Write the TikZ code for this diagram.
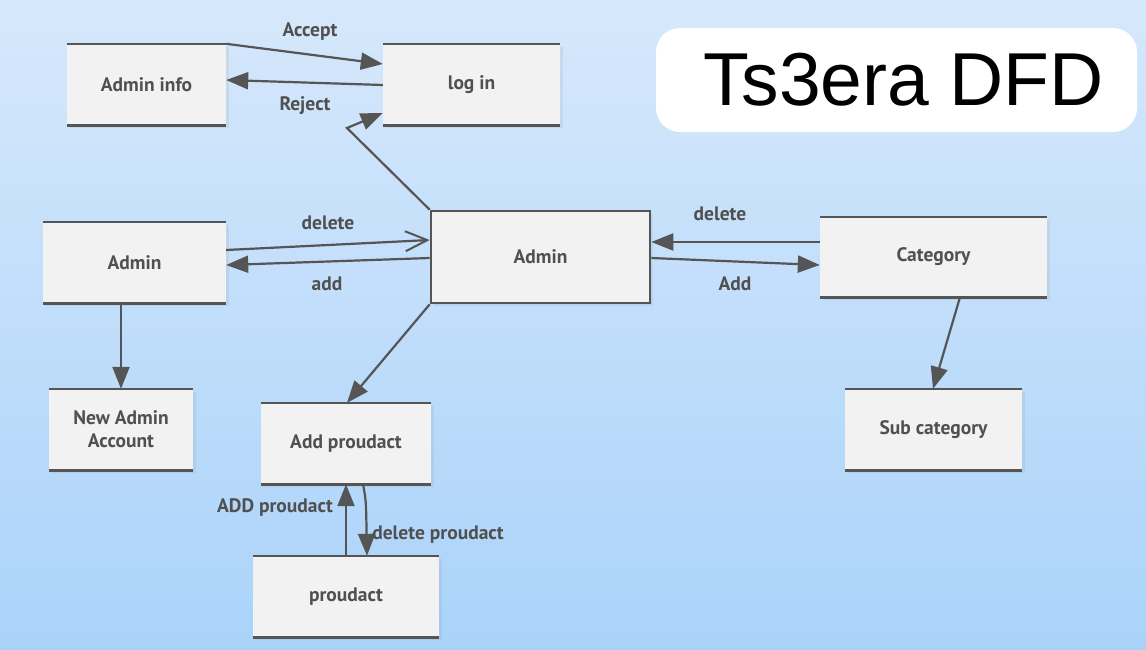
\documentclass[tikz,border=0pt]{standalone}
\usepackage{fontspec}
\setmainfont{PT Sans}
\newfontfamily\titlefont{Liberation Sans}
\usetikzlibrary{arrows.meta,shadows,calc}
\definecolor{bgtop}{RGB}{214,232,251}
\definecolor{bgbot}{RGB}{170,211,250}
\definecolor{boxfill}{RGB}{242,242,242}
\definecolor{ink}{RGB}{85,85,85}
\definecolor{txt}{RGB}{80,80,80}
\tikzset{
  store/.style={fill=boxfill, inner sep=0pt, align=center, font=\bfseries\fontsize{19.5}{23}\selectfont, text=txt,
    drop shadow={opacity=0.12, shadow xshift=3pt, shadow yshift=-3pt}},
  storeline/.style={draw=ink, line width=2.6pt},
  flow/.style={draw=ink, line width=2.2pt},
  fl/.style={flow, -{Triangle[length=22pt,width=17pt]}},
  fo/.style={flow, -{Straight Barb[length=22pt,width=20pt,line width=2pt]}},
  lbl/.style={font=\bfseries\fontsize{19.5}{23}\selectfont, text=txt, inner sep=0pt},
}
\begin{document}
\begin{tikzpicture}[x=1pt,y=-1pt]
\shade[top color=bgtop, bottom color=bgbot] (0,0) rectangle (1146,649);
\useasboundingbox (0,0) rectangle (1146,649);

% title
\node[fill=white, rounded corners=24pt, minimum width=481pt, minimum height=104pt, inner sep=0pt] (title) at (896.5,80) {};
\node[inner sep=0pt, font=\titlefont\fontsize{75}{82}\selectfont, text=black] (titletext) at (904,80) {Ts3era DFD};

% boxes
\node[store, minimum width=159pt, minimum height=81pt] (ainfo) at (146.5,84.5) {Admin info};
\node[store, minimum width=177pt, minimum height=81pt] (login) at (471.5,84.5) {log in};
\node[store, minimum width=219pt, minimum height=92pt, draw=ink, line width=2.6pt] (adm) at (540.5,257) {Admin};
\node[store, minimum width=183pt, minimum height=81pt] (aleft) at (134.5,262.5) {Admin};
\node[store, minimum width=227pt, minimum height=80pt] (cat) at (933.5,257) {Category};
\node[store, minimum width=144pt, minimum height=81pt] (newacc) at (121,429.5) {New Admin\\Account};
\node[store, minimum width=170pt, minimum height=81pt] (addp) at (346,443.5) {Add proudact};
\node[store, minimum width=177pt, minimum height=81pt] (subcat) at (933.5,429.5) {Sub category};
\node[store, minimum width=186pt, minimum height=81pt] (prod) at (346,596.5) {proudact};

\foreach \n in {ainfo,login,aleft,cat,newacc,addp,subcat,prod}{
  \draw[storeline] (\n.north west) -- (\n.north east);
  \draw[storeline] (\n.south west) -- (\n.south east);
}

% connectors
\draw[fl] (ainfo.north east) -- ([yshift=20.5pt]login.west);
\draw[fl] ([yshift=-0.5pt]login.west) -- ([yshift=4.5pt]ainfo.east);
\coordinate (bend) at (347,128);
\draw[fl] (adm.north west) -- (bend) -- ([yshift=-28.5pt]login.west);
\draw[fo] ([yshift=12.5pt]aleft.east) -- ([yshift=17pt]adm.west);
\draw[fl] ([yshift=-1pt]adm.west) -- ([yshift=-2.5pt]aleft.east);
\draw[fl] ([yshift=15pt]cat.west) -- ([yshift=15pt]adm.east);
\draw[fl] ([yshift=-1pt]adm.east) -- ([yshift=-8pt]cat.west);
\draw[fl] (adm.south west) -- ([xshift=1pt]addp.north);
\draw[fl] ([xshift=-13.5pt]aleft.south) -- (newacc.north);
\draw[fl] ([xshift=26.5pt]cat.south) -- ([xshift=-0.5pt]subcat.north);
\draw[fl] (prod.north) -- (addp.south);
\draw[fl] ([xshift=17pt]addp.south) .. controls (366,500) .. ([xshift=21pt]prod.north);

% labels
\node[lbl] (lacc) at (310,32) {Accept};
\node[lbl] (lrej) at (305,106) {Reject};
\node[lbl] (ldel1) at (328,223) {delete};
\node[lbl] (ladd1) at (327,284) {add};
\node[lbl] (ldel2) at (720,214) {delete};
\node[lbl] (ladd2) at (735,284) {Add};
\node[lbl] (laddp) at (275,508) {ADD proudact};
\node[lbl] (ldelp) at (438,535) {delete proudact};
\end{tikzpicture}
\end{document}
